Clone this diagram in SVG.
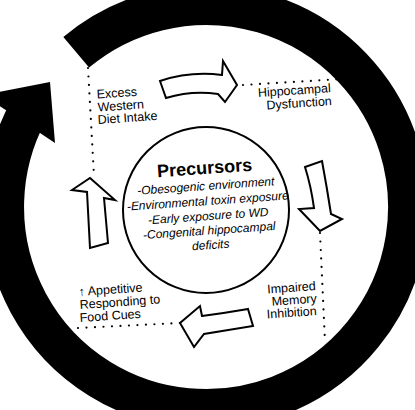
<svg xmlns="http://www.w3.org/2000/svg" width="415" height="410" viewBox="0 0 415 410">
<style>
.lbl{font-family:"Liberation Sans",Arial,"DejaVu Sans",sans-serif;font-size:12.5px;fill:#000}
.title{font-family:"Liberation Sans",Arial,sans-serif;font-size:18px;font-weight:bold;fill:#000}
.it{font-family:"Liberation Sans",Arial,sans-serif;font-size:12px;font-style:italic;fill:#000}
.dot{fill:none;stroke:#000;stroke-width:2.2;stroke-linecap:round;stroke-dasharray:0 8.5}
.hollow{fill:#fff;stroke:#000;stroke-width:2;stroke-linejoin:miter}
</style>
<rect width="415" height="410" fill="#fff"/>
<g id="cycle-ring">
<path d="M76.2 52.3 A202 202 0 1 1 27.7 112.2" fill="none" stroke="#000" stroke-width="40"/>
<polygon points="50,82 -17,95 55,143" fill="#000"/>
</g>
<g id="precursors">
<circle cx="206" cy="210" r="83" fill="#fff" stroke="#000" stroke-width="2"/>
<text class="title" x="205" y="174" text-anchor="middle" transform="rotate(-4 205 174)">Precursors</text>
<text class="it" x="206" y="190" text-anchor="middle" transform="rotate(-4 206 190)">-Obesogenic environment</text>
<text class="it" x="208" y="205" text-anchor="middle" transform="rotate(-4 208 205)">-Environmental toxin exposure</text>
<text class="it" x="208.5" y="220" text-anchor="middle" transform="rotate(-4 208.5 220)">-Early exposure to WD</text>
<text class="it" x="209.5" y="234.5" text-anchor="middle" transform="rotate(-4 209.5 234.5)">-Congenital hippocampal</text>
<text class="it" x="211" y="249" text-anchor="middle" transform="rotate(-4 211 249)">deficits</text>
</g>
<g id="excess">
<path class="dot" d="M88 68 L94 176"/>
<text class="lbl" x="97" y="98.5" transform="rotate(-4 97 98.5)">Excess</text>
<text class="lbl" x="98" y="111.5" transform="rotate(-4 98 111.5)">Western</text>
<text class="lbl" x="98" y="124" transform="rotate(-4 98 124)">Diet Intake</text>
</g>
<g id="hippocampal">
<path class="dot" d="M243 85 L342 79"/>
<text class="lbl" x="331" y="92" text-anchor="end" transform="rotate(-4 331 92)">Hippocampal</text>
<text class="lbl" x="332" y="105" text-anchor="end" transform="rotate(-4 332 105)">Dysfunction</text>
</g>
<g id="impaired">
<path class="dot" d="M320 233 L325 342"/>
<text class="lbl" x="316" y="290" text-anchor="end" transform="rotate(-4 316 290)">Impaired</text>
<text class="lbl" x="317" y="302.5" text-anchor="end" transform="rotate(-4 317 302.5)">Memory</text>
<text class="lbl" x="317" y="315" text-anchor="end" transform="rotate(-4 317 315)">Inhibition</text>
</g>
<g id="appetitive">
<path class="dot" d="M78 328 L180 323"/>
<text class="lbl" x="79" y="296" transform="rotate(-4 79 296)">↑ Appetitive</text>
<text class="lbl" x="80" y="309" transform="rotate(-4 80 309)">Responding to</text>
<text class="lbl" x="80" y="322" transform="rotate(-4 80 322)">Food Cues</text>
</g>
<g id="connectors">
<path class="hollow" d="M160 81 Q190 71 222 75 L223 61 L237 85 L225 102 L218 94 Q192 90 166 98 Z"/>
<path class="hollow" d="M305 167 L322 161 Q327 188 331 214 L342 219 L320 231 L299 209 L314 208 Q311 186 305 167 Z"/>
<path class="hollow" d="M248 309 L253 326 Q228 330 204 334 L194 347 L180 323 L200 306 L202 316 Q225 313 248 309 Z"/>
<path class="hollow" d="M90 178 L115 200 L104 198 L108 243 L90 248 L87 192 L72 190 Z"/>
</g>
</svg>
